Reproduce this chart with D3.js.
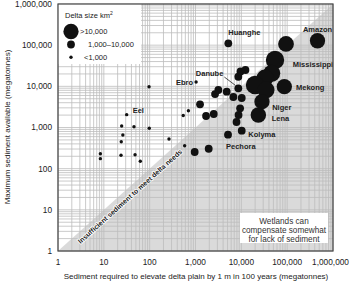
<!DOCTYPE html>
<html>
<head>
<meta charset="utf-8">
<script src="https://cdn.jsdelivr.net/npm/d3@7"></script>
<style>
  body { margin: 0; background: #fff; }
  svg { display: block; font-family: "Liberation Sans", Arial, sans-serif; }
</style>
</head>
<body>
<svg width="350" height="282"></svg>
<script>
// Sediment required (x), sediment available (y), both megatonnes; delta size km2
const sedimentRequired = [
  97, 31.5, 24.5, 45.5, 98, 26, 24, 264, 8.4, 8.4, 23.7, 48, 62.5, 1030, 700, 540, 580,
  5200, 9600, 12300, 8600, 8600, 10200, 6700, 4800, 3150, 2670, 1255, 1700, 2500, 9400, 8700, 7850, 10200, 5120, 960, 1940,
  459000, 94400, 54300, 46000, 32900, 86700, 19900, 34500, 28200, 23500
];
const sedimentAvailable = [
  9800, 2050, 1090, 1045, 955, 660, 450, 525, 231, 175, 211, 218, 151, 12700, 2560, 1950, 360,
  111000, 22900, 24900, 17100, 8950, 5200, 5500, 7400, 8140, 6500, 3660, 1900, 2130, 2925, 2010, 1360, 836, 668, 254, 305,
  128000, 107000, 43500, 20700, 15900, 9790, 10800, 8140, 4230, 2010
];
const deltaArea = [
  500, 500, 500, 500, 500, 500, 500, 500, 500, 500, 500, 500, 500, 500, 500, 500, 500,
  5000, 5000, 5000, 5000, 5000, 5000, 5000, 5000, 5000, 5000, 5000, 5000, 5000, 5000, 5000, 5000, 5000, 5000, 5000, 5000,
  20000, 25000, 60000, 40000, 40000, 20000, 60000, 40000, 20000, 22000
];

// named deltas -> index into the arrays above
const riverNames = ["Eel", "Ebro", "Huanghe", "Danube", "Kolyma", "Pechora", "Amazon", "Mississippi", "Mekong", "Niger", "Lena"];
const riverIndex = [1, 13, 17, 21, 33, 36, 37, 39, 42, 45, 46];

const axisTicks = [1, 10, 100, 1000, 10000, 100000, 1000000];
const legendClasses = [">10,000", "1,000\u201310,000", "<1,000"];
const legendAreas = [20000, 5000, 500];

const svg = d3.select("svg");

const x = d3.scaleLog().domain([1, 1e6]).range([58, 333]);
const y = d3.scaleLog().domain([1, 1e6]).range([251, 4]);

const rLarge = d3.scaleSqrt().domain([10000, 100000]).range([7, 10.3]).clamp(true);
function radius(a) {
  if (a < 1000) return 1.7;
  if (a < 10000) return 3.9;
  return rLarge(a);
}

// background + area below the 1:1 line
svg.append("rect")
  .attr("x", x(1)).attr("y", y(1e6))
  .attr("width", x(1e6) - x(1)).attr("height", y(1) - y(1e6))
  .attr("fill", "#fff");
svg.append("path")
  .attr("d", d3.line()([[x(1), y(1)], [x(1e6), y(1e6)], [x(1e6), y(1)]]) + "Z")
  .attr("fill", "#dadada");

// log grid
let gridVals = [];
for (let d = 0; d < 6; d++) {
  for (let k = 1; k <= 9; k++) gridVals.push(k * Math.pow(10, d));
}
gridVals.push(1e6);

const grid = svg.append("g").attr("stroke", "#bcbcbc").attr("stroke-width", 0.8);
grid.selectAll(".gx").data(gridVals).enter().append("line")
  .attr("x1", d => x(d)).attr("x2", d => x(d))
  .attr("y1", y(1)).attr("y2", y(1e6));
grid.selectAll(".gy").data(gridVals).enter().append("line")
  .attr("y1", d => y(d)).attr("y2", d => y(d))
  .attr("x1", x(1)).attr("x2", x(1e6));

// legend
svg.append("rect")
  .attr("x", 58).attr("y", 4).attr("width", 83).attr("height", 60)
  .attr("fill", "#fff");
svg.append("text")
  .attr("x", 65).attr("y", 17.5)
  .attr("font-size", "7.5px").attr("fill", "#222")
  .html('Delta size km<tspan baseline-shift="super" font-size="5px">2</tspan>');
const leg = svg.append("g");
leg.selectAll("circle").data(legendAreas).enter().append("circle")
  .attr("cx", 71).attr("cy", (d, i) => [31.5, 44.5, 57.3][i])
  .attr("r", d => radius(d)).attr("fill", "#111");
leg.selectAll("text").data(legendClasses).enter().append("text")
  .attr("x", (d, i) => [80, 88, 84][i]).attr("y", (d, i) => [31.5, 44.5, 57.3][i])
  .attr("dy", "0.35em")
  .attr("font-size", "7.5px").attr("fill", "#222")
  .text(d => d);

// wetlands note
svg.append("rect")
  .attr("x", 240).attr("y", 213).attr("width", 88).attr("height", 30)
  .attr("fill", "#fff");
svg.append("g").selectAll("text")
  .data(["Wetlands can", "compensate somewhat", "for lack of sediment"])
  .enter().append("text")
  .attr("x", 284).attr("y", (d, i) => 220.7 + i * 9)
  .attr("dy", "0.35em").attr("text-anchor", "middle")
  .attr("font-size", "8.2px").attr("fill", "#333")
  .text(d => d);

// diagonal annotation
const ang = Math.atan2(y(1) - y(1e6), x(1e6) - x(1));
const tv = Math.pow(10, 1.462);
const off = 7.5;
svg.append("text")
  .attr("transform", "translate(" + (x(tv) + off * Math.sin(ang)) + "," + (y(tv) + off * Math.cos(ang)) + ") rotate(" + (-ang * 180 / Math.PI) + ")")
  .attr("text-anchor", "middle").attr("dy", "0.35em")
  .attr("font-size", "7px").attr("font-weight", "bold")
  .attr("fill", "#222").attr("stroke", "#fff").attr("stroke-width", 1.6)
  .attr("paint-order", "stroke")
  .text("Insufficient sediment to meet delta needs");

// points
const pts = d3.range(sedimentRequired.length);
svg.append("g").selectAll("circle").data(pts).enter().append("circle")
  .attr("cx", i => x(sedimentRequired[i]))
  .attr("cy", i => y(sedimentAvailable[i]))
  .attr("r", i => radius(deltaArea[i]))
  .attr("fill", "#111");

// labels
const labelPos = {
  Eel: [6, -2, "start"], Ebro: [-3, 3, "end"], Huanghe: [0, -8, "start"],
  Danube: [-15, -12.3, "end"], Kolyma: [6.6, 5.8, "start"], Pechora: [17.3, 0.5, "start"],
  Amazon: [0, -9, "middle"], Mississippi: [17.7, 6.5, "start"], Mekong: [11.7, 3, "start"],
  Niger: [10.2, 8.5, "start"], Lena: [13.4, 6, "start"]
};
const lab = svg.append("g");
riverNames.forEach(function (name, j) {
  const i = riverIndex[j];
  const px = x(sedimentRequired[i]), py = y(sedimentAvailable[i]);
  const p = labelPos[name];
  lab.append("text")
    .attr("x", px + p[0]).attr("y", py + p[1])
    .attr("text-anchor", p[2])
    .attr("font-size", "7.5px").attr("font-weight", "bold").attr("fill", "#222")
    .text(name);
  if (name === "Danube") {
    lab.append("line")
      .attr("x1", px + p[0] + 1).attr("y1", py + p[1] + 1)
      .attr("x2", px - 3).attr("y2", py - 3)
      .attr("stroke", "#222").attr("stroke-width", 0.8);
  }
});

// frame
svg.append("rect")
  .attr("x", x(1)).attr("y", y(1e6))
  .attr("width", x(1e6) - x(1)).attr("height", y(1) - y(1e6))
  .attr("fill", "none").attr("stroke", "#444").attr("stroke-width", 1.2);

// tick labels
const fmt = d3.format(",");
svg.append("g").selectAll("text").data(axisTicks).enter().append("text")
  .attr("x", (d, i) => i === axisTicks.length - 1 ? 349 : x(d)).attr("y", 265)
  .attr("text-anchor", (d, i) => i === axisTicks.length - 1 ? "end" : "middle")
  .attr("font-size", "8.3px").attr("fill", "#222")
  .text(d => fmt(d));
svg.append("g").selectAll("text").data(axisTicks).enter().append("text")
  .attr("x", 52).attr("y", d => y(d)).attr("dy", "0.35em")
  .attr("text-anchor", "end").attr("font-size", "8.3px").attr("fill", "#222")
  .text(d => fmt(d));

// axis titles
svg.append("text")
  .attr("x", 196).attr("y", 279)
  .attr("text-anchor", "middle").attr("font-size", "8px").attr("fill", "#222")
  .text("Sediment required to elevate delta plain by 1 m in 100 years (megatonnes)");
svg.append("text")
  .attr("transform", "translate(10,127) rotate(-90)")
  .attr("text-anchor", "middle").attr("font-size", "8px").attr("fill", "#222")
  .text("Maximum sediment available (megatonnes)");
</script>
</body>
</html>
